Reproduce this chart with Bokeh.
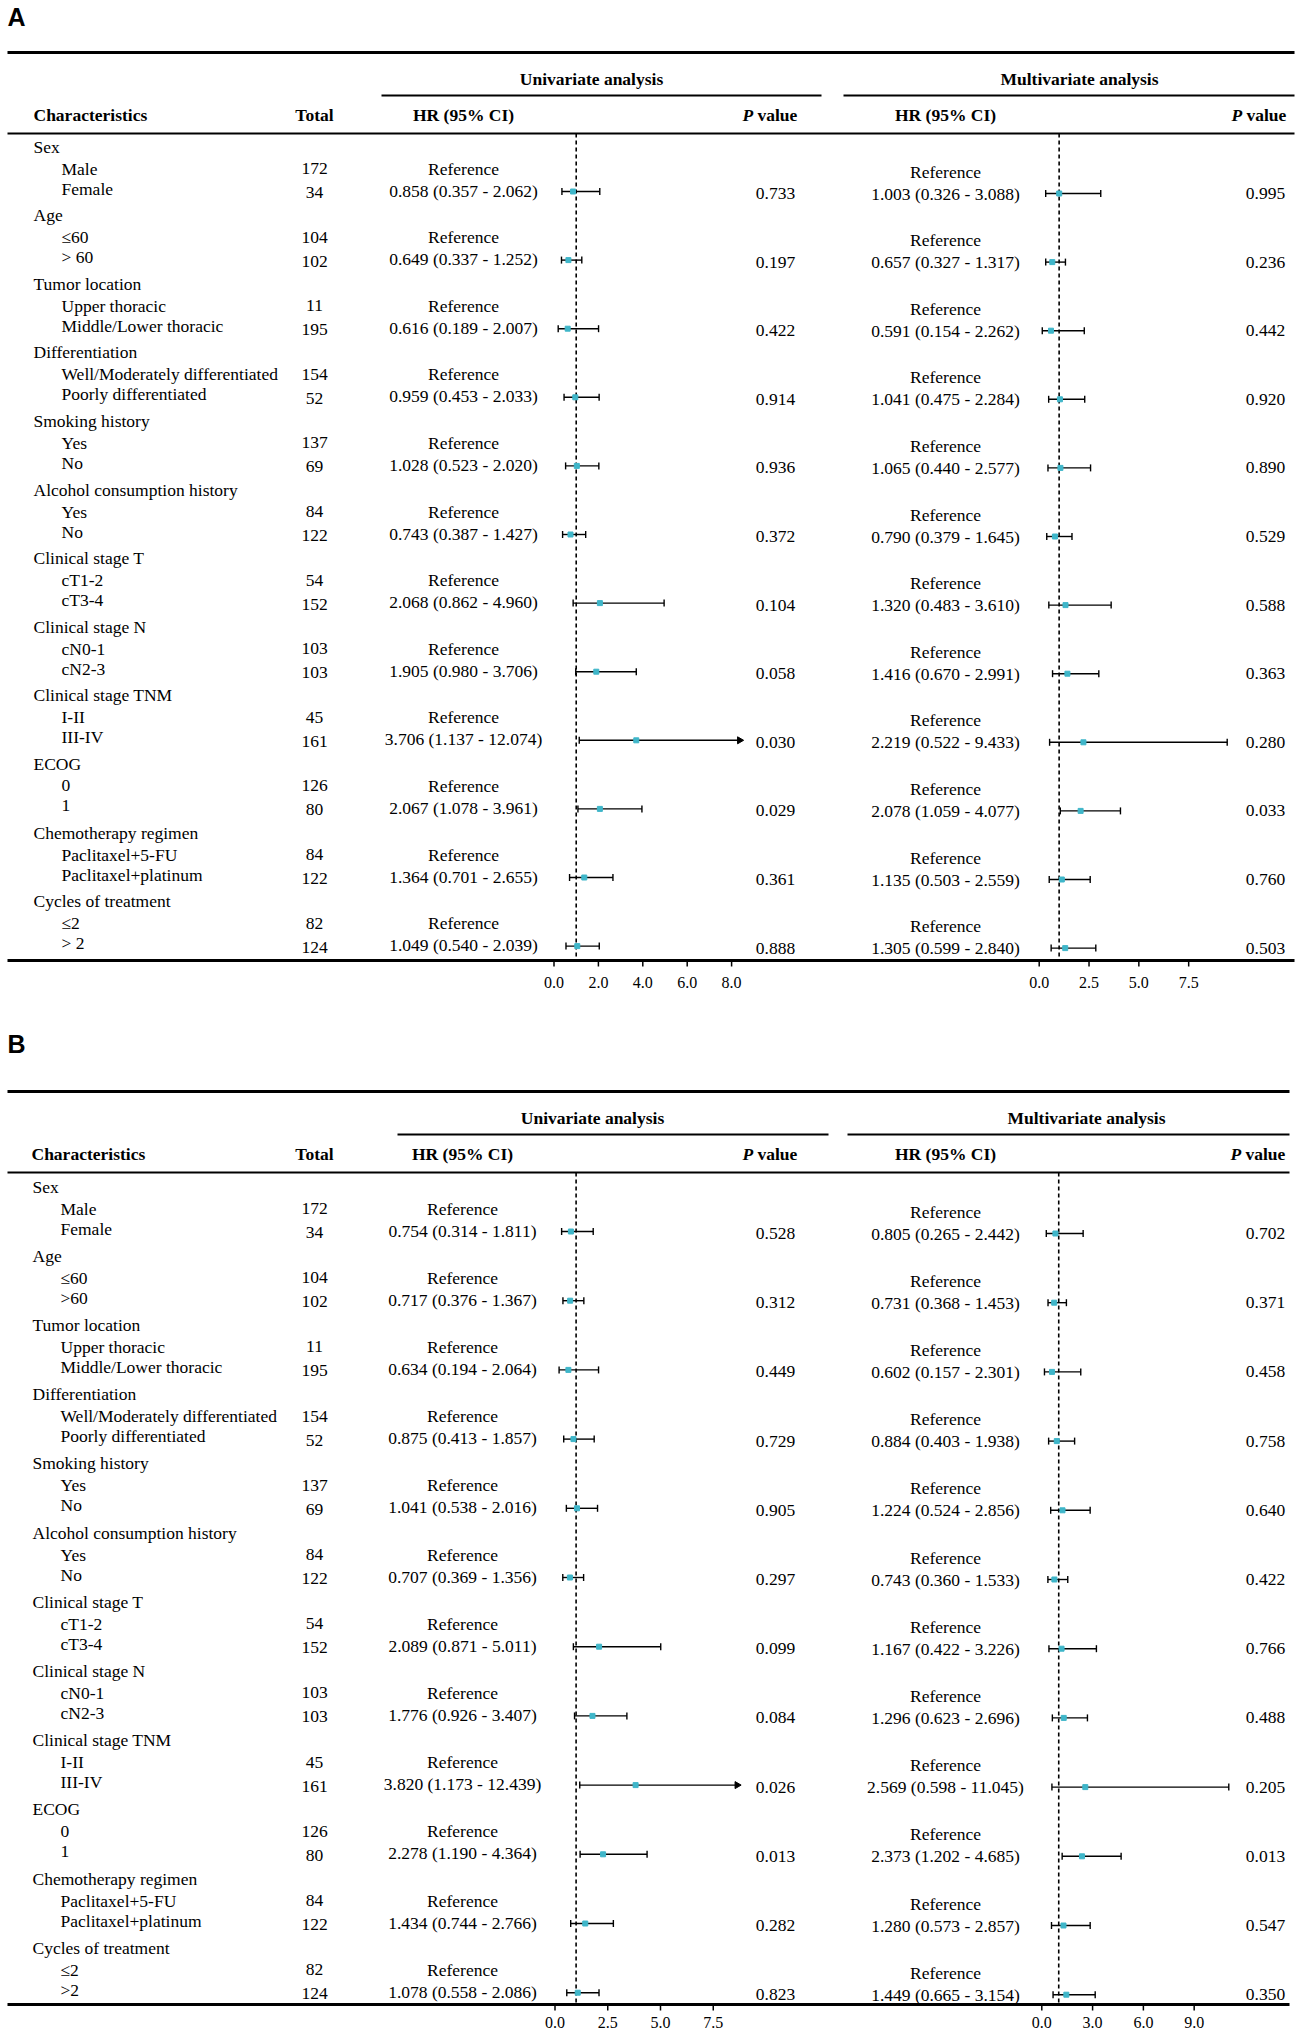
import numpy as np
from bokeh.plotting import figure
from bokeh.models import Range1d
from bokeh.core.properties import value
from bokeh.embed import file_html
from bokeh.resources import INLINE

# ---------------- data ----------------
groups = ["Sex", "Age", "Tumor location", "Differentiation", "Smoking history",
          "Alcohol consumption history", "Clinical stage T", "Clinical stage N",
          "Clinical stage TNM", "ECOG", "Chemotherapy regimen", "Cycles of treatment"]
ref_labels = ["Male", "\u226460", "Upper thoracic", "Well/Moderately differentiated", "Yes", "Yes",
              "cT1-2", "cN0-1", "I-II", "0", "Paclitaxel+5-FU", "\u22642"]
cmp_labels_A = ["Female", "> 60", "Middle/Lower thoracic", "Poorly differentiated", "No", "No",
                "cT3-4", "cN2-3", "III-IV", "1", "Paclitaxel+platinum", "> 2"]
cmp_labels_B = ["Female", ">60", "Middle/Lower thoracic", "Poorly differentiated", "No", "No",
                "cT3-4", "cN2-3", "III-IV", "1", "Paclitaxel+platinum", ">2"]
ref_total = [172, 104, 11, 154, 137, 84, 54, 103, 45, 126, 84, 82]
cmp_total = [34, 102, 195, 52, 69, 122, 152, 103, 161, 80, 122, 124]

# Panel A - univariate
A_uni_hr = [0.858, 0.649, 0.616, 0.959, 1.028, 0.743, 2.068, 1.905, 3.706, 2.067, 1.364, 1.049]
A_uni_lo = [0.357, 0.337, 0.189, 0.453, 0.523, 0.387, 0.862, 0.980, 1.137, 1.078, 0.701, 0.540]
A_uni_hi = [2.062, 1.252, 2.007, 2.033, 2.020, 1.427, 4.960, 3.706, 12.074, 3.961, 2.655, 2.039]
A_uni_p = [0.733, 0.197, 0.422, 0.914, 0.936, 0.372, 0.104, 0.058, 0.030, 0.029, 0.361, 0.888]
# Panel A - multivariate
A_mul_hr = [1.003, 0.657, 0.591, 1.041, 1.065, 0.790, 1.320, 1.416, 2.219, 2.078, 1.135, 1.305]
A_mul_lo = [0.326, 0.327, 0.154, 0.475, 0.440, 0.379, 0.483, 0.670, 0.522, 1.059, 0.503, 0.599]
A_mul_hi = [3.088, 1.317, 2.262, 2.284, 2.577, 1.645, 3.610, 2.991, 9.433, 4.077, 2.559, 2.840]
A_mul_p = [0.995, 0.236, 0.442, 0.920, 0.890, 0.529, 0.588, 0.363, 0.280, 0.033, 0.760, 0.503]
# Panel B - univariate
B_uni_hr = [0.754, 0.717, 0.634, 0.875, 1.041, 0.707, 2.089, 1.776, 3.820, 2.278, 1.434, 1.078]
B_uni_lo = [0.314, 0.376, 0.194, 0.413, 0.538, 0.369, 0.871, 0.926, 1.173, 1.190, 0.744, 0.558]
B_uni_hi = [1.811, 1.367, 2.064, 1.857, 2.016, 1.356, 5.011, 3.407, 12.439, 4.364, 2.766, 2.086]
B_uni_p = [0.528, 0.312, 0.449, 0.729, 0.905, 0.297, 0.099, 0.084, 0.026, 0.013, 0.282, 0.823]
# Panel B - multivariate
B_mul_hr = [0.805, 0.731, 0.602, 0.884, 1.224, 0.743, 1.167, 1.296, 2.569, 2.373, 1.280, 1.449]
B_mul_lo = [0.265, 0.368, 0.157, 0.403, 0.524, 0.360, 0.422, 0.623, 0.598, 1.202, 0.573, 0.665]
B_mul_hi = [2.442, 1.453, 2.301, 1.938, 2.856, 1.533, 3.226, 2.696, 11.045, 4.685, 2.857, 3.154]
B_mul_p = [0.702, 0.371, 0.458, 0.758, 0.640, 0.422, 0.766, 0.488, 0.205, 0.013, 0.547, 0.350]

# axis tick values
A_uni_ticks = [0.0, 2.0, 4.0, 6.0, 8.0]
A_mul_ticks = [0.0, 2.5, 5.0, 7.5]
B_uni_ticks = [0.0, 2.5, 5.0, 7.5]
B_mul_ticks = [0.0, 3.0, 6.0, 9.0]

# ---------------- layout ----------------
W, H = 1299, 2036
LEFT, TOP = 0, 0
SERIF = value("Liberation Serif")
SANS = value("Liberation Sans")
FS = "17.5px"
CYAN = "#3fb6c9"

p = figure(width=W, height=H, x_range=Range1d(LEFT, LEFT + W), y_range=Range1d(TOP + H, TOP),
           output_backend="svg", toolbar_location=None, x_axis_location=None,
           y_axis_location=None, min_border=0)
p.grid.visible = False
p.outline_line_color = None
p.background_fill_color = "white"
p.border_fill_color = "white"

extra = {}


def scale_range(x0, ppu):
    return Range1d(start=(LEFT - x0) / ppu, end=(LEFT + W - x0) / ppu)


def txt(xs, ys, texts, align="center", style="normal", size=FS, font=SERIF, rn="default"):
    p.text(x=list(xs), y=list(ys), text=list(texts), text_align=align, text_baseline="middle",
           text_font=font, text_font_size=size, text_font_style=style, text_color="black",
           x_range_name=rn)


def hline(y, x0, x1, w):
    p.segment(x0=[x0], y0=[y], x1=[x1], y1=[y], line_color="black", line_width=w)


def fmt_hr(h, l, u):
    return [f"{a:.3f} ({b:.3f} - {c:.3f})" for a, b, c in zip(h, l, u)]


def forest(rn, ys, hr, lo, hi, clip, top, bottom, ticks, label_y):
    # reference line at HR = 1
    p.segment(x0=[1.0], y0=[top], x1=[1.0], y1=[bottom], line_color="black",
              line_width=1.6, line_dash="4 3", x_range_name=rn)
    hi_c = [min(h, clip) for h in hi]
    p.segment(x0=lo, y0=ys, x1=hi_c, y1=ys, line_color="black", line_width=1.4, x_range_name=rn)
    # caps
    p.segment(x0=lo, y0=[y - 3.5 for y in ys], x1=lo, y1=[y + 3.5 for y in ys],
              line_color="black", line_width=1.4, x_range_name=rn)
    cap_x = [h for h in hi if h <= clip]
    cap_y = [y for h, y in zip(hi, ys) if h <= clip]
    p.segment(x0=cap_x, y0=[y - 3.5 for y in cap_y], x1=cap_x, y1=[y + 3.5 for y in cap_y],
              line_color="black", line_width=1.4, x_range_name=rn)
    arr_x = [clip for h in hi if h > clip]
    arr_y = [y for h, y in zip(hi, ys) if h > clip]
    if arr_x:
        p.scatter(x=arr_x, y=arr_y, marker="triangle", size=7, angle=-np.pi / 2,
                  color="black", x_range_name=rn)
    p.scatter(x=hr, y=ys, marker="square", size=5, color=CYAN, line_color=CYAN, x_range_name=rn)
    # axis ticks
    p.segment(x0=ticks, y0=[bottom] * len(ticks), x1=ticks, y1=[bottom + 6] * len(ticks),
              line_color="black", line_width=1.5, x_range_name=rn)
    txt(ticks, [label_y] * len(ticks), [f"{t:.1f}" for t in ticks], size="16px", rn=rn)


def panel(c, cmp_labels, uhr, ulo, uhi, up, mhr, mlo, mhi, mp, uticks, mticks):
    un, mn = c["label"] + "u", c["label"] + "m"
    extra[un] = scale_range(c["uni_x0"], c["uni_ppu"])
    extra[mn] = scale_range(c["mul_x0"], c["mul_ppu"])

    txt([c["lab_x"]], [c["lab_y"]], [c["label"]], align="left", style="bold", size="25px", font=SANS)
    hline(c["top_y"], *c["top_x"], 3)
    txt([c["uni_title_x"], c["mul_title_x"]], [c["title_y"]] * 2,
        ["Univariate analysis", "Multivariate analysis"], style="bold")
    hline(c["ul_y"], *c["uni_ul"], 2)
    hline(c["ul_y"], *c["mul_ul"], 2)
    hy = c["head_y"]
    txt([c["char_x"]], [hy], ["Characteristics"], align="left", style="bold")
    txt([c["total_x"], c["uni_hr_x"], c["mul_hr_x"]], [hy] * 3, ["Total", "HR (95% CI)", "HR (95% CI)"],
        style="bold")
    txt([c["uni_ph_x"], c["mul_ph_x"]], [hy] * 2, ["P", "P"], align="left", style="bold italic")
    txt([c["uni_ph_x"] + 15, c["mul_ph_x"] + 15], [hy] * 2, ["value", "value"], align="left", style="bold")
    hline(c["head_line_y"], *c["top_x"], 2)
    hline(c["bottom_y"], *c["top_x"], 3)

    n = len(groups)
    gy = [c["first_y"] + i * c["step"] for i in range(n)]
    txt([c["group_x"]] * n, gy, groups, align="left")
    txt([c["sub_x"]] * n, [y + 22 for y in gy], ref_labels, align="left")
    txt([c["sub_x"]] * n, [y + 42 for y in gy], cmp_labels, align="left")
    txt([c["total_x"]] * n, [y + 22 for y in gy], [str(v) for v in ref_total])
    txt([c["total_x"]] * n, [y + 46 for y in gy], [str(v) for v in cmp_total])
    txt([c["uni_hr_x"]] * n, [y + 22 for y in gy], ["Reference"] * n)
    txt([c["uni_hr_x"]] * n, [y + 44 for y in gy], fmt_hr(uhr, ulo, uhi))
    txt([c["uni_p_x"]] * n, [y + 47 for y in gy], [f"{v:.3f}" for v in up])
    txt([c["mul_hr_x"]] * n, [y + 25 for y in gy], ["Reference"] * n)
    txt([c["mul_hr_x"]] * n, [y + 47 for y in gy], fmt_hr(mhr, mlo, mhi))
    txt([c["mul_p_x"]] * n, [y + 47 for y in gy], [f"{v:.3f}" for v in mp])

    forest(un, [y + 45 for y in gy], uhr, ulo, uhi, c["uni_clip"], c["head_line_y"], c["bottom_y"],
           uticks, c["tick_label_y"])
    forest(mn, [y + 47 for y in gy], mhr, mlo, mhi, 1e9, c["head_line_y"], c["bottom_y"],
           mticks, c["tick_label_y"])


cfgA = dict(label="A", lab_x=7, lab_y=16, top_y=52, top_x=(7, 1294), title_y=78,
            uni_title_x=591, mul_title_x=1079, ul_y=95, uni_ul=(381, 821), mul_ul=(843, 1294),
            head_y=114, char_x=33, total_x=314, uni_hr_x=463, mul_hr_x=945,
            uni_ph_x=742, mul_ph_x=1231, head_line_y=133, first_y=146, step=68.6,
            group_x=33, sub_x=61, uni_p_x=775, mul_p_x=1265, bottom_y=960, tick_label_y=982,
            uni_x0=553.5, uni_ppu=22.2, mul_x0=1038.7, mul_ppu=19.93, uni_clip=8.36)
cfgB = dict(label="B", lab_x=7, lab_y=1043, top_y=1091, top_x=(7, 1289), title_y=1117,
            uni_title_x=592, mul_title_x=1086, ul_y=1134, uni_ul=(397, 828), mul_ul=(847, 1289),
            head_y=1153, char_x=31, total_x=314, uni_hr_x=462, mul_hr_x=945,
            uni_ph_x=742, mul_ph_x=1230, head_line_y=1172, first_y=1186, step=69.2,
            group_x=32, sub_x=60, uni_p_x=775, mul_p_x=1265, bottom_y=2004, tick_label_y=2022,
            uni_x0=554.5, uni_ppu=21.1, mul_x0=1041.3, mul_ppu=16.93, uni_clip=8.63)

panel(cfgA, cmp_labels_A, A_uni_hr, A_uni_lo, A_uni_hi, A_uni_p,
      A_mul_hr, A_mul_lo, A_mul_hi, A_mul_p, A_uni_ticks, A_mul_ticks)
panel(cfgB, cmp_labels_B, B_uni_hr, B_uni_lo, B_uni_hi, B_uni_p,
      B_mul_hr, B_mul_lo, B_mul_hi, B_mul_p, B_uni_ticks, B_mul_ticks)

p.extra_x_ranges = extra

open("out.html", "w").write(file_html(p, INLINE))
